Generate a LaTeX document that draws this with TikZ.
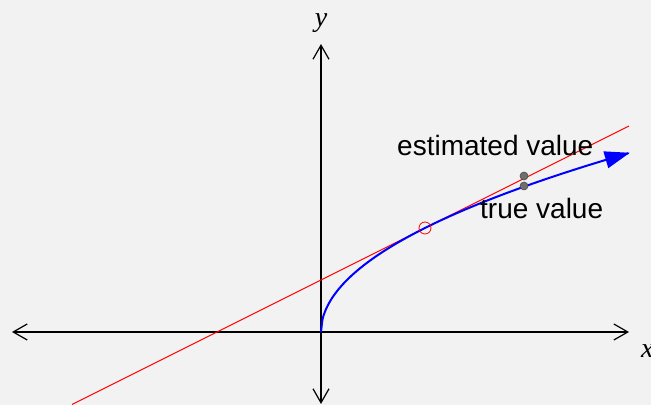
\documentclass[tikz,border=0pt]{standalone}
\usepackage{fontspec}
\setmainfont{Liberation Sans}
\newfontfamily\axisfont{Liberation Serif}
\usetikzlibrary{arrows.meta}
\definecolor{bg}{HTML}{F2F2F2}
\definecolor{dotgray}{HTML}{6E6E6E}
\tikzset{
  axis/.style={line width=1.2pt, black, {Straight Barb[length=14pt,width=16pt,line width=1.2pt]}-{Straight Barb[length=14pt,width=16pt,line width=1.2pt]}},
  curve/.style={line width=2pt, blue, -{Triangle[length=25pt,width=17pt]}},
  tangent/.style={line width=1pt, red},
  valdot/.style={circle, fill=dotgray, draw=black!70, line width=0.6pt, inner sep=0pt, minimum size=8pt},
  touch/.style={circle, draw=red, line width=0.8pt, inner sep=0pt, minimum size=12pt},
  lbl/.style={font=\fontsize{28}{32}\selectfont, anchor=base west, inner sep=0pt},
  axlbl/.style={font=\axisfont\itshape\fontsize{28}{32}\selectfont, inner sep=0pt}
}
\begin{document}
\begin{tikzpicture}[x=104pt,y=104pt]
\fill[bg] (-3.0865,-0.7019) rectangle (3.1731,3.1923);
\useasboundingbox (-3.0865,-0.7019) rectangle (3.1731,3.1923);
% axes
\coordinate (xl) at (-2.971,0);
\coordinate (xr) at (2.962,0);
\coordinate (yb) at (0,-0.692);
\coordinate (yt) at (0,2.769);
\draw[axis] (xl) -- (xr);
\draw[axis] (yb) -- (yt);
\node[axlbl, anchor=base west] (xlab) at (3.077,-0.25) {x};
\node[axlbl, anchor=base] (ylab) at (0,2.933) {y};
% tangent line
\coordinate (ta) at (-2.394,-0.697);
\coordinate (tb) at (2.962,1.981);
\draw[tangent] (ta) -- (tb);
% curve
\draw[curve] plot[domain=0:2.97, samples=200, smooth] (\x,{sqrt(\x)});
% touch point
\node[touch] (tp) at (1,1) {};
% value dots
\node[valdot] (est) at (1.952,1.500) {};
\node[valdot] (tru) at (1.952,1.404) {};
% labels
\node[lbl] (estl) at (0.731,1.6923) {estimated value};
\node[lbl] (trul) at (1.529,1.096) {true value};
\end{tikzpicture}
\end{document}
